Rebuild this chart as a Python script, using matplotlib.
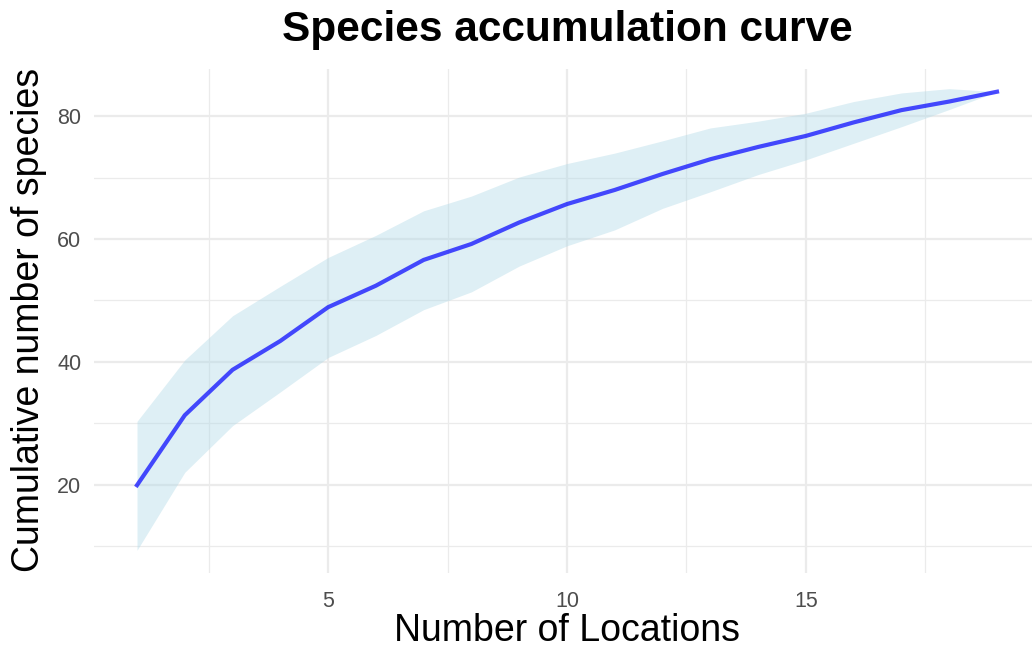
import numpy as np
import matplotlib
matplotlib.use('Agg')
import matplotlib.pyplot as plt
from matplotlib.ticker import MultipleLocator

plt.rcParams['font.family'] = ['Liberation Sans', 'DejaVu Sans']

# data
sites = [1, 2, 3, 4, 5, 6, 7, 8, 9, 10, 11, 12, 13, 14, 15, 16, 17, 18, 19]
richness = [19.9, 31.3, 38.7, 43.4, 48.9, 52.4, 56.6, 59.2, 62.7, 65.7,
            68.0, 70.6, 73.0, 75.0, 76.8, 79.0, 81.0, 82.4, 84.0]
upper = [30.3, 40.3, 47.5, 52.3, 57.0, 60.6, 64.6, 67.0, 70.1, 72.3,
         74.0, 76.0, 78.1, 79.2, 80.5, 82.4, 83.8, 84.5, 84.0]
lower = [9.3, 22.0, 29.6, 35.1, 40.7, 44.3, 48.5, 51.4, 55.6, 58.9,
         61.5, 65.0, 67.7, 70.5, 72.9, 75.6, 78.3, 81.1, 84.0]

fig = plt.figure(figsize=(10.32, 6.49), dpi=100)
ax = fig.add_axes([94 / 1032, 76 / 649, 946 / 1032, 504 / 649])

ax.fill_between(sites, lower, upper, color='lightblue', alpha=0.4, linewidth=0, zorder=2)
ax.plot(sites, richness, color='blue', alpha=0.7, linewidth=3.0, zorder=3)

ax.set_xlim(0.1, 19.9)
ax.set_ylim(5.6, 87.7)
ax.xaxis.set_major_locator(MultipleLocator(5))
ax.xaxis.set_minor_locator(MultipleLocator(2.5))
ax.yaxis.set_major_locator(MultipleLocator(20))
ax.yaxis.set_minor_locator(MultipleLocator(10))
ax.grid(which='major', color='#EBEBEB', linewidth=1.6, zorder=0)
ax.grid(which='minor', color='#EBEBEB', linewidth=0.9, zorder=0)
ax.set_axisbelow(True)
for s in ax.spines.values():
    s.set_visible(False)
ax.tick_params(which='both', length=0, labelsize=15.5, labelcolor='#4D4D4D')
ax.tick_params(axis='x', pad=13)
ax.tick_params(axis='y', pad=9)

# axis titles and plot title placed by hand, like the ggplot layout
fig.text(567.5 / 1032, 1 - 631 / 649, 'Number of Locations', fontsize=27,
         ha='center', va='center')
fig.text(29 / 1032, 1 - 320 / 649, 'Cumulative number of species', fontsize=27,
         rotation=90, ha='center', va='center')
fig.text(567 / 1032, 1 - 30 / 649, 'Species accumulation curve', fontsize=30.5,
         fontweight='bold', ha='center', va='center')

fig.savefig('out.png', dpi=100)
